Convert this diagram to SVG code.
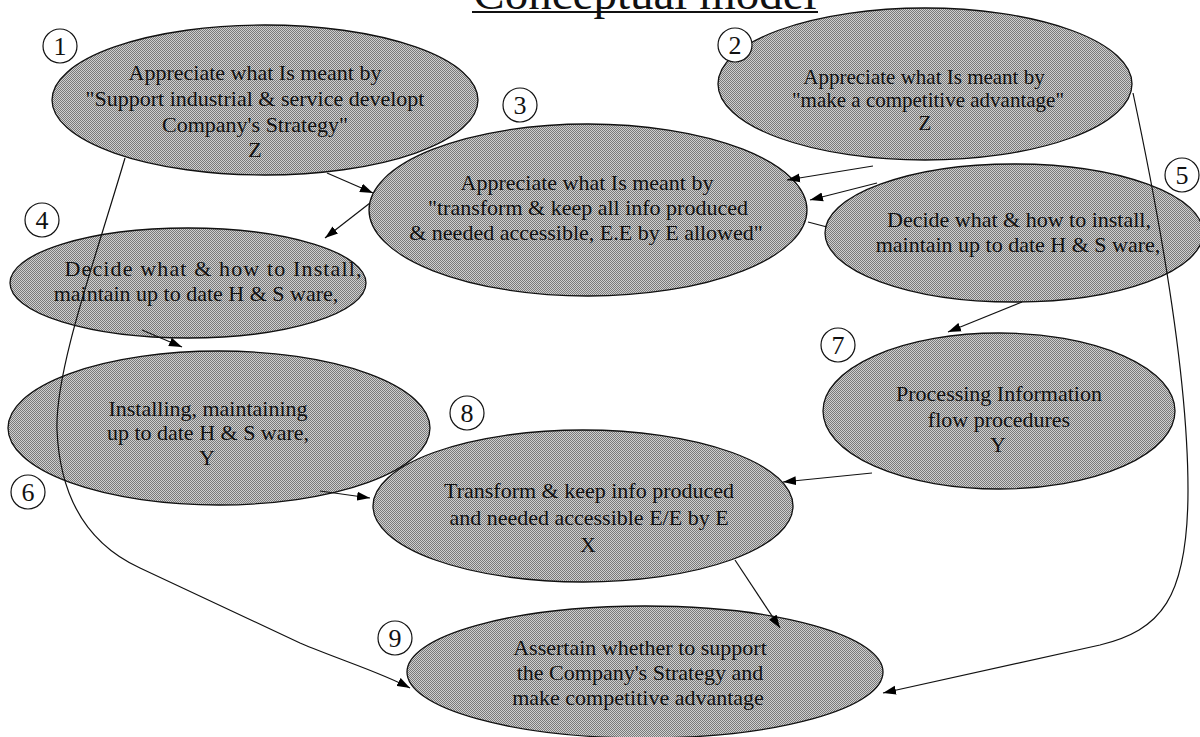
<svg xmlns="http://www.w3.org/2000/svg" width="1200" height="737" viewBox="0 0 1200 737">
<defs>
<pattern id="dots" width="2" height="2" patternUnits="userSpaceOnUse">
<rect width="2" height="2" fill="#cfcfcf"/>
<rect x="0" y="0" width="1" height="1" fill="#7a7a7a"/>
<rect x="1" y="1" width="1" height="1" fill="#7a7a7a"/>
</pattern>
<marker id="arr" markerUnits="userSpaceOnUse" markerWidth="14" markerHeight="10" refX="13" refY="5" orient="auto">
<path d="M0,0.5 L13,5 L0,9.5 z" fill="#000"/>
</marker>
</defs>
<style>
.node ellipse{fill:url(#dots);stroke:#111;stroke-width:1.3}
.t{font-family:"Liberation Serif","Times New Roman",serif;font-size:22px;fill:#111;text-anchor:middle}
.t2{font-size:21px}
.num circle{fill:#fff;stroke:#111;stroke-width:1.2}
.num text{font-family:"Liberation Serif","Times New Roman",serif;font-size:26px;fill:#111;text-anchor:middle}
.c{fill:none;stroke:#111;stroke-width:1.2}
.title{font-family:"Liberation Serif","Times New Roman",serif;font-size:47px;fill:#111;text-anchor:middle}
</style>
<rect width="1200" height="737" fill="#fff"/>
<g id="title">
<text class="title" x="645" y="9">Conceptual model</text>
<line x1="472" y1="12" x2="818" y2="12" stroke="#111" stroke-width="2"/>
</g>
<g id="node1" class="node">
<ellipse cx="265" cy="100" rx="213" ry="75"/>
<text class="t" x="255" y="80">Appreciate what Is meant by</text>
<text class="t" x="255" y="106">"Support industrial &amp; service developt</text>
<text class="t" x="255" y="132">Company's Strategy"</text>
<text class="t" x="255" y="157">Z</text>
</g>
<g id="node2" class="node">
<ellipse cx="925" cy="84" rx="207" ry="76"/>
<text class="t t2" x="924" y="84">Appreciate what Is meant by</text>
<text class="t t2" x="928" y="107">"make a competitive advantage"</text>
<text class="t t2" x="925" y="130">Z</text>
</g>
<g id="node3" class="node">
<ellipse cx="588" cy="210" rx="219" ry="86"/>
<text class="t" x="587" y="190">Appreciate what Is meant by</text>
<text class="t" x="588" y="215">"transform &amp; keep all info produced</text>
<text class="t" x="586" y="240">&amp; needed accessible, E.E by E allowed"</text>
</g>
<g id="node4" class="node">
<ellipse cx="188" cy="283" rx="178" ry="55"/>
<text class="t" x="213" y="276" textLength="297" lengthAdjust="spacing">Decide what &amp; how to Install,</text>
<text class="t" x="196" y="301">maintain up to date H &amp; S ware,</text>
</g>
<g id="node5" class="node">
<ellipse cx="1014" cy="233" rx="189" ry="69"/>
<text class="t" x="1019" y="227">Decide what &amp; how to install,</text>
<text class="t" x="1018" y="252">maintain up to date H &amp; S ware,</text>
</g>
<g id="node6" class="node">
<ellipse cx="219" cy="428" rx="211" ry="77"/>
<text class="t" x="208" y="416">Installing, maintaining</text>
<text class="t" x="208" y="440">up to date H &amp; S ware,</text>
<text class="t" x="207" y="465">Y</text>
</g>
<g id="node7" class="node">
<ellipse cx="999" cy="411" rx="176" ry="78"/>
<text class="t" x="999" y="401">Processing Information</text>
<text class="t" x="999" y="427">flow procedures</text>
<text class="t" x="998" y="452">Y</text>
</g>
<g id="node8" class="node">
<ellipse cx="583" cy="506" rx="210" ry="76"/>
<text class="t" x="589" y="498">Transform &amp; keep info produced</text>
<text class="t" x="589" y="525">and needed accessible E/E by E</text>
<text class="t" x="588" y="552">X</text>
</g>
<g id="node9" class="node">
<ellipse cx="645" cy="672" rx="238" ry="66"/>
<text class="t" x="640" y="655">Assertain whether to support</text>
<text class="t" x="640" y="680">the Company's Strategy and</text>
<text class="t" x="638" y="705">make competitive advantage</text>
</g>
<g id="connectors">
<path class="c" d="M327,173 L373,193" marker-end="url(#arr)"/>
<path class="c" d="M370,203 L325,238" marker-end="url(#arr)"/>
<path class="c" d="M873,166 L787,180" marker-end="url(#arr)"/>
<path class="c" d="M877,183 L810,200" marker-end="url(#arr)"/>
<path class="c" d="M808,222 L827,227"/>
<path class="c" d="M1022,302 L948,332" marker-end="url(#arr)"/>
<path class="c" d="M142,330 L182,347" marker-end="url(#arr)"/>
<path class="c" d="M320,491 L370,498" marker-end="url(#arr)"/>
<path class="c" d="M872,473 L783,482" marker-end="url(#arr)"/>
<path class="c" d="M735,560 L780,628" marker-end="url(#arr)"/>
<path class="c" d="M125,158 C95,260 55,370 57,430 C60,500 90,545 140,568 L300,643 C340,660 380,672 410,688" marker-end="url(#arr)"/>
<path class="c" d="M1133,93 C1160,220 1188,380 1188,490 C1188,600 1160,630 1100,645 L883,693" marker-end="url(#arr)"/>
</g>
<g id="labels" class="num">
<circle cx="60" cy="46" r="17"/><text x="60" y="55">1</text>
<circle cx="735" cy="45" r="17"/><text x="735" y="54">2</text>
<circle cx="520" cy="105" r="17"/><text x="520" y="114">3</text>
<circle cx="42" cy="220" r="17"/><text x="42" y="229">4</text>
<circle cx="1182" cy="175" r="17"/><text x="1182" y="184">5</text>
<circle cx="28" cy="492" r="17"/><text x="28" y="501">6</text>
<circle cx="838" cy="345" r="17"/><text x="838" y="354">7</text>
<circle cx="467" cy="413" r="17"/><text x="467" y="422">8</text>
<circle cx="395" cy="638" r="17"/><text x="395" y="647">9</text>
</g>
</svg>
